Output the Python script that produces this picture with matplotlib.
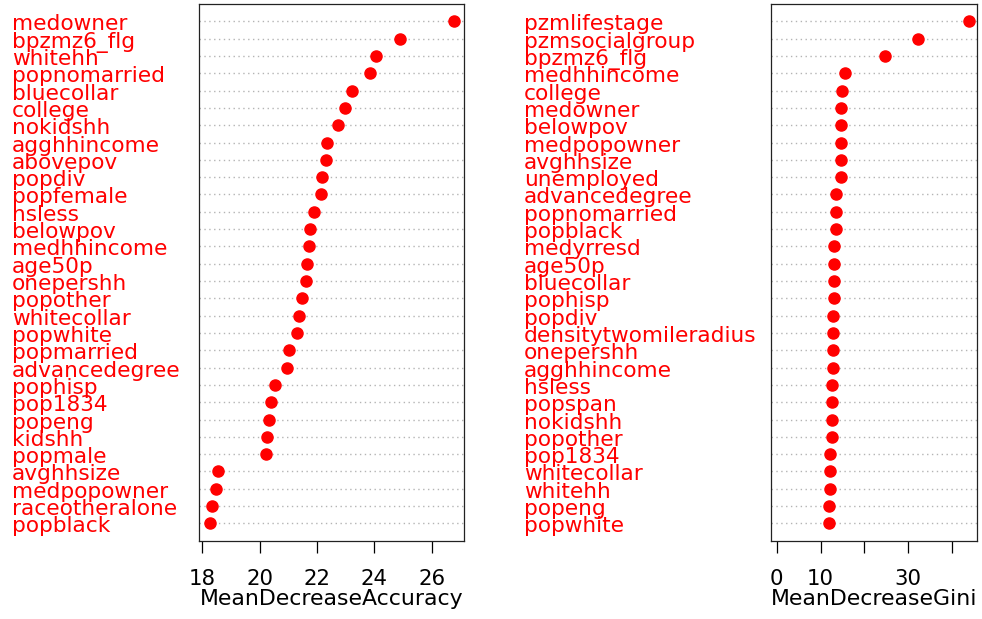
import matplotlib.pyplot as plt
import matplotlib.transforms as mtransforms

acc_names = ['medowner', 'bpzmz6_flg', 'whitehh', 'popnomarried', 'bluecollar', 'college',
             'nokidshh', 'agghhincome', 'abovepov', 'popdiv', 'popfemale', 'hsless', 'belowpov',
             'medhhincome', 'age50p', 'onepershh', 'popother', 'whitecollar', 'popwhite',
             'popmarried', 'advancedegree', 'pophisp', 'pop1834', 'popeng', 'kidshh', 'popmale',
             'avghhsize', 'medpopowner', 'raceotheralone', 'popblack']
acc_values = [26.78, 24.90, 24.06, 23.85, 23.23, 22.98, 22.74, 22.36, 22.32, 22.18, 22.15,
              21.90, 21.76, 21.73, 21.66, 21.62, 21.47, 21.36, 21.31, 21.03, 20.96, 20.54,
              20.38, 20.33, 20.26, 20.23, 18.56, 18.49, 18.35, 18.28]

gini_names = ['pzmlifestage', 'pzmsocialgroup', 'bpzmz6_flg', 'medhhincome', 'college',
              'medowner', 'belowpov', 'medpopowner', 'avghhsize', 'unemployed',
              'advancedegree', 'popnomarried', 'popblack', 'medyrresd', 'age50p', 'bluecollar',
              'pophisp', 'popdiv', 'densitytwomileradius', 'onepershh', 'agghhincome', 'hsless',
              'popspan', 'nokidshh', 'popother', 'pop1834', 'whitecollar', 'whitehh', 'popeng',
              'popwhite']
gini_values = [43.97, 32.33, 24.80, 15.66, 14.98, 14.76, 14.75, 14.74, 14.72, 14.70, 13.62,
               13.60, 13.58, 13.15, 13.12, 13.10, 13.08, 12.94, 12.92, 12.90, 12.72, 12.71,
               12.70, 12.69, 12.68, 12.26, 12.24, 12.21, 12.02, 12.00]

acc_ticks = [18, 20, 22, 24, 26]
gini_ticks = [0, 10, 20, 30, 40]
gini_ticklabels = ['0', '10', '', '30', '']

plt.rcParams['font.family'] = ['DejaVu Sans']

fig = plt.figure(figsize=(9.82, 6.19), dpi=100)
ax1 = fig.add_axes([0.2030, 0.1265, 0.2698, 0.8670])
ax2 = fig.add_axes([0.7848, 0.1265, 0.2098, 0.8670])


def dotchart(ax, names, values, xlim, ticks, ticklabels, xlabel, label_x):
    n = len(names)
    ypos = list(range(n, 0, -1))
    for y in ypos:
        ax.axhline(y, color='#b4b4b4', linestyle=(0, (1, 2.5)), linewidth=1.0, zorder=1)
    ax.plot(values, ypos, 'o', color='red', markersize=8, zorder=3)
    ax.set_xlim(*xlim)
    ax.set_ylim(0, n + 1)
    ax.set_yticks([])
    ax.set_xticks(ticks)
    ax.set_xticklabels(ticklabels)
    ax.tick_params(axis='x', length=8.5, width=0.9, pad=12, labelsize=15.3)
    for spine in ax.spines.values():
        spine.set_linewidth(0.9)
        spine.set_color('#222222')
    ax.set_xlabel(xlabel, fontsize=15.8, labelpad=0)
    trans = mtransforms.blended_transform_factory(fig.transFigure, ax.transData)
    for name, y in zip(names, ypos):
        ax.text(label_x, y - 0.52, name, transform=trans, color='red', fontsize=15.6,
                ha='left', va='baseline', clip_on=False)


dotchart(ax1, acc_names, acc_values, (17.9, 27.13), acc_ticks, [str(t) for t in acc_ticks],
         'MeanDecreaseAccuracy', 0.0122)
dotchart(ax2, gini_names, gini_values, (-1.4, 45.65), gini_ticks, gini_ticklabels,
         'MeanDecreaseGini', 0.5336)

fig.savefig('out.png', dpi=100)
